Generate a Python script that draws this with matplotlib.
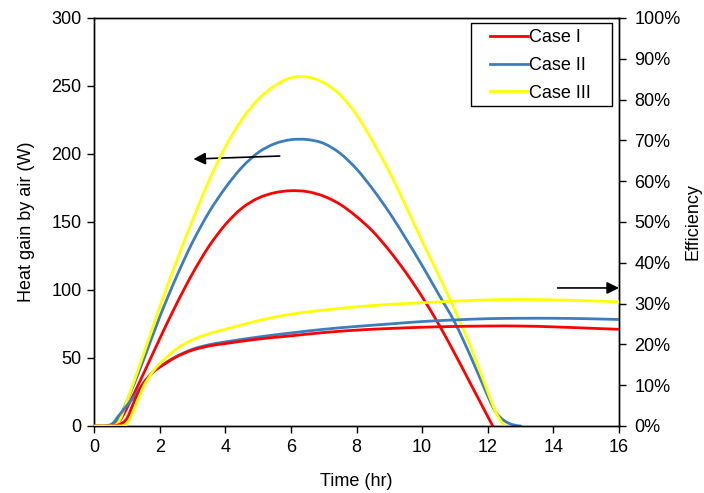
import matplotlib
matplotlib.use("Agg")
import numpy as np
import matplotlib.pyplot as plt
from matplotlib.lines import Line2D
from matplotlib.patches import Rectangle, PathPatch
from matplotlib.path import Path
from matplotlib.ticker import FuncFormatter

plt.rcParams['font.family'] = ['Liberation Sans', 'DejaVu Sans']
plt.rcParams['font.size'] = 13

cases = ["Case I", "Case II", "Case III"]
colors = ["#FF0000", "#3D7DBD", "#FFFF00"]

# Heat gain by air (W) against time (hr)
t_heat_1 = [0, 0.5, 0.75, 1.0, 1.5, 2.0, 2.5, 3.0, 3.5, 4.0, 4.5, 5.0, 5.5, 6.0, 6.5,
            7.0, 7.5, 8.0, 8.5, 9.0, 9.5, 10.0, 10.5, 11.0, 11.5, 12.0, 12.15]
heat_1 = [0, 0, 3, 13, 38, 64, 89, 112, 132, 148, 160, 167.5, 171.5, 173, 172.3,
          169, 163, 154, 143, 129, 113, 95, 75, 53, 30, 7, 0]

t_heat_2 = [0, 0.5, 0.75, 1.0, 1.5, 2.0, 2.5, 3.0, 3.5, 4.0, 4.5, 5.0, 5.5, 6.0, 6.5,
            7.0, 7.5, 8.0, 8.5, 9.0, 9.5, 10.0, 10.5, 11.0, 11.5, 12.0, 12.25, 12.5,
            12.75, 13.0]
heat_2 = [0, 0, 6, 18, 48, 80, 109, 135, 157, 175, 190, 201, 207.5, 210.5, 210.6,
          207.8, 200.5, 189, 174, 157, 138, 118, 97, 76, 50, 22, 10, 4, 1, 0]

t_heat_3 = [0, 0.5, 0.75, 1.0, 1.5, 2.0, 2.5, 3.0, 3.5, 4.0, 4.5, 5.0, 5.5, 6.0, 6.5,
            7.0, 7.5, 8.0, 8.5, 9.0, 9.5, 10.0, 10.5, 11.0, 11.5, 12.0, 12.25, 12.5]
heat_3 = [0, 0, 3, 18, 52, 87, 120, 151, 180, 205, 225, 240, 250, 256.0, 256.6,
          252.5, 243.5, 229, 209, 187, 162, 136, 111, 85, 57, 25, 10, 0]

# Efficiency (%) against time (hr)
t_eff = [0, 0.5, 0.75, 1.0, 1.25, 1.5, 1.75, 2.0, 2.5, 3.0, 3.5, 4.0, 5.0, 6.0, 7.0,
         8.0, 9.0, 10.0, 11.0, 12.0, 13.0, 14.0, 15.0, 16.0]
eff_1 = [0, 0, 0.3, 1.8, 6.5, 10.3, 12.8, 14.4, 16.9, 18.6, 19.6, 20.2, 21.3, 22.1, 22.9,
         23.5, 23.9, 24.2, 24.4, 24.5, 24.5, 24.3, 24.0, 23.7]
eff_2 = [0, 0.3, 2.5, 5.0, 7.5, 10.5, 12.8, 14.5, 17.0, 18.8, 19.9, 20.6, 21.8, 22.8, 23.7,
         24.4, 25.0, 25.6, 26.0, 26.3, 26.4, 26.4, 26.3, 26.1]
eff_3 = [0, 0, 0, 0.5, 4.5, 9.5, 12.8, 15.2, 18.8, 21.1, 22.6, 23.7, 25.8, 27.4, 28.4,
         29.2, 29.8, 30.2, 30.6, 30.9, 31.0, 30.9, 30.7, 30.4]

x_ticks = [0, 2, 4, 6, 8, 10, 12, 14, 16]
heat_ticks = [0, 50, 100, 150, 200, 250, 300]
eff_ticks = [0, 10, 20, 30, 40, 50, 60, 70, 80, 90, 100]


def smooth_line(axis, xs, ys, color, z):
    """Draw a smoothed line (cubic Bezier through every point) in data space."""
    pts = np.column_stack([xs, ys]).astype(float)
    ext = np.vstack([pts[0], pts, pts[-1]])
    verts = [pts[0]]
    codes = [Path.MOVETO]
    for i in range(len(pts) - 1):
        p0, p1, p2, p3 = ext[i], ext[i + 1], ext[i + 2], ext[i + 3]
        c1 = p1 + (p2 - p0) / 6.0
        c2 = p2 - (p3 - p1) / 6.0
        verts += [c1, c2, p2]
        codes += [Path.CURVE4] * 3
    patch = PathPatch(Path(verts, codes), fill=False, ec=color, lw=2.0, zorder=z,
                      capstyle='round', joinstyle='round', transform=axis.transData)
    axis.add_patch(patch)


fig = plt.figure(figsize=(7.04, 4.93), dpi=100)
ax = fig.add_axes([94 / 704, 1 - 426 / 493, 525 / 704, 408 / 493])
ax2 = ax.twinx()

heat_series = [(t_heat_1, heat_1), (t_heat_2, heat_2), (t_heat_3, heat_3)]
eff_series = [eff_1, eff_2, eff_3]
z_order = [3, 2, 4]

for (t, h), c, z in zip(heat_series, colors, z_order):
    smooth_line(ax, t, h, c, z)
for e, c, z in zip(eff_series, colors, z_order):
    smooth_line(ax2, t_eff, e, c, z)

ax.set_xlim(0, 16)
ax.set_ylim(0, 300)
ax2.set_ylim(0, 100)
ax.set_xticks(x_ticks)
ax.set_yticks(heat_ticks)
ax2.set_yticks(eff_ticks)
ax2.yaxis.set_major_formatter(FuncFormatter(lambda v, p: f"{v:.0f}%"))

for a in (ax, ax2):
    for s in a.spines.values():
        s.set_linewidth(1.0)
        s.set_color("black")
    a.tick_params(direction='out', length=5, width=1.0, colors='black', labelsize=13)
ax.tick_params(axis='y', pad=4)
ax.tick_params(axis='x', pad=4)
ax2.tick_params(axis='y', pad=6)

ax.set_xlabel("Time (hr)", va='center')
ax.xaxis.set_label_coords(0.5, (426 - 481) / 408)
ax.set_ylabel("Heat gain by air (W)", va='center')
ax.yaxis.set_label_coords((27 - 94) / 525, 0.5)
ax2.set_ylabel("Efficiency", va='center')
ax2.yaxis.set_label_coords((693 - 94) / 525, 0.5)

arrow_style = dict(arrowstyle='-|>,head_length=0.6,head_width=0.3', color='black',
                   lw=1.2, mutation_scale=12, shrinkA=0, shrinkB=0)
ax.annotate("", xy=(3.03, 196.3), xytext=(5.66, 198.5), arrowprops=arrow_style)
ax.annotate("", xy=(16.0, 101.5), xytext=(14.13, 101.5), arrowprops=arrow_style,
            annotation_clip=False)

handles = [Line2D([], [], color=c, lw=2.0) for c in colors]
ax2.legend(handles, cases, loc='upper left', bbox_to_anchor=(490 / 704, 1 - 29 / 493),
           bbox_transform=fig.transFigure, frameon=False, borderpad=0, borderaxespad=0,
           handlelength=2.1, handletextpad=0.05, labelspacing=0.6, fontsize=13)
fig.add_artist(Rectangle((471 / 704, 1 - 106 / 493), 141 / 704, 83 / 493,
                         transform=fig.transFigure, fill=False, ec='black', lw=1.0,
                         zorder=10))

fig.savefig("out.png", dpi=100)
